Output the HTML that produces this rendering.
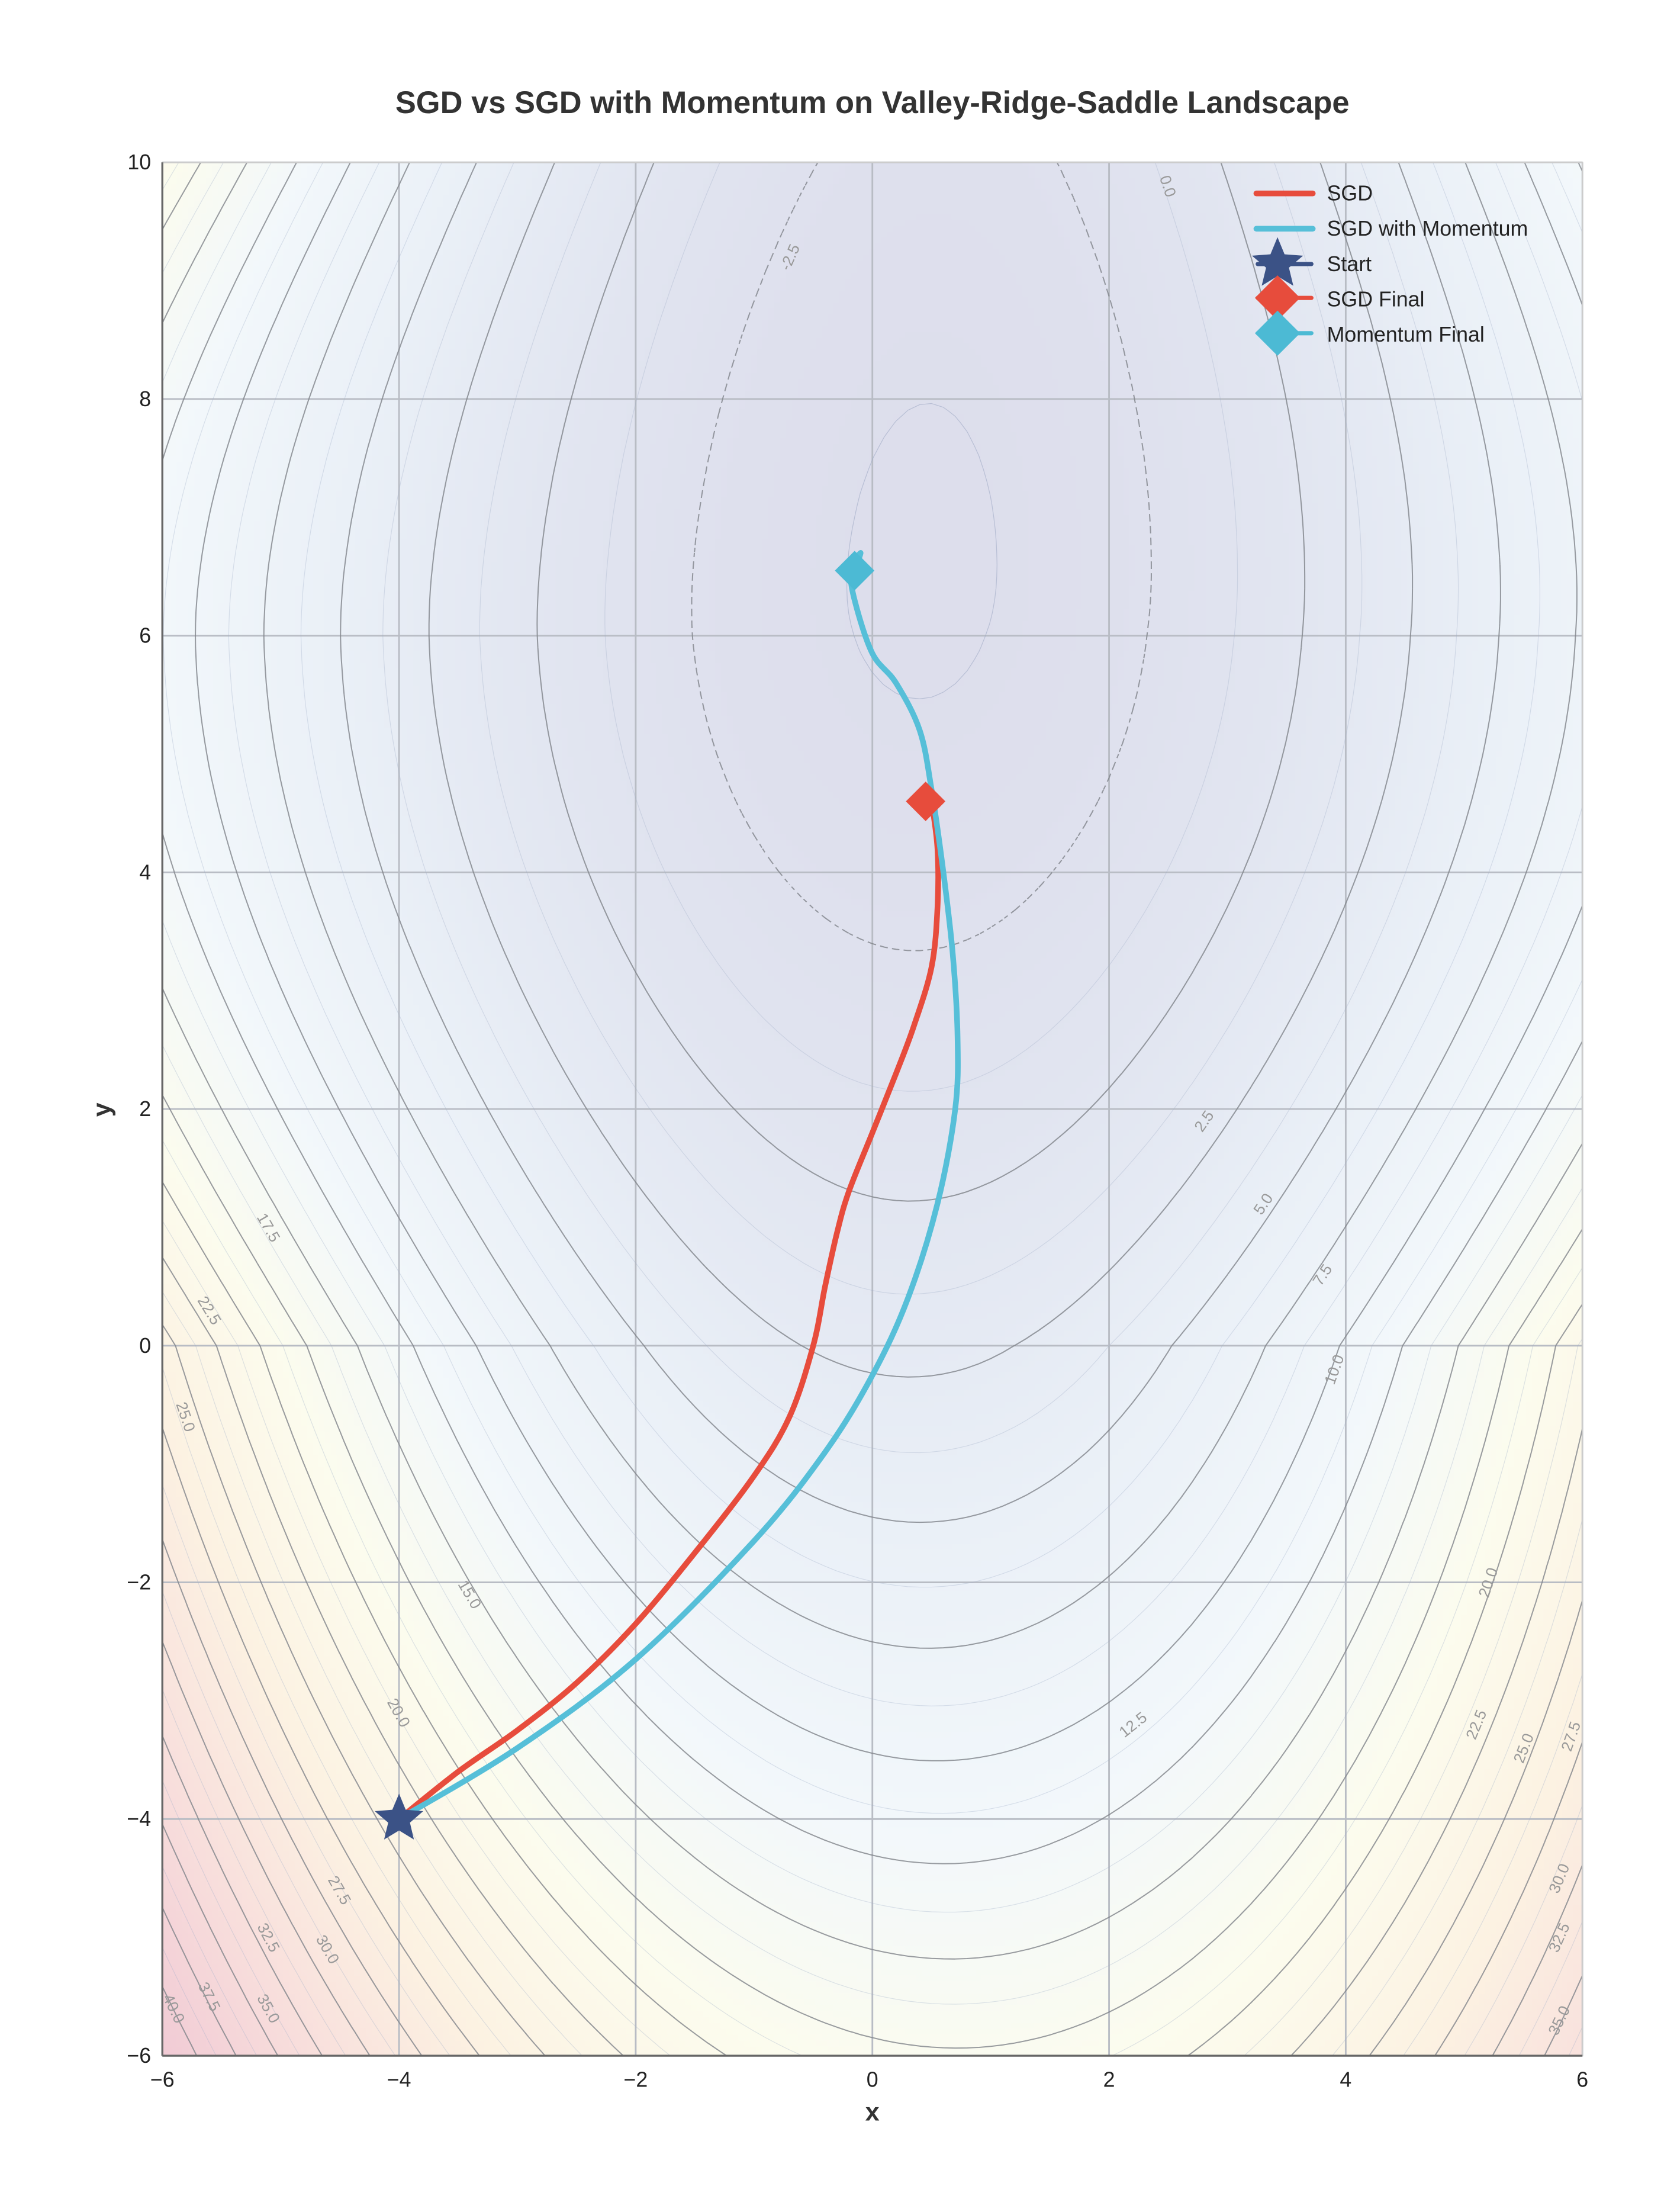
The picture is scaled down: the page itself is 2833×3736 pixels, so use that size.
<!DOCTYPE html>
<html><head><meta charset="utf-8"><style>
html,body{margin:0;padding:0;background:#fff;}
#wrap{position:relative;width:2833px;height:3736px;overflow:hidden;}
#bg{position:absolute;left:273px;top:275px;width:2399px;height:3196px;}
#chart{position:absolute;left:0;top:0;}
text{font-family:"Liberation Sans",Arial,sans-serif;}
</style></head><body>
<div id="wrap">
<canvas id="bg" width="240" height="320"></canvas>
<svg id="chart" width="2833" height="3736" viewBox="0 0 1188 1566.7">
<text x="618" y="80" text-anchor="middle" font-size="22" font-weight="bold" fill="#333">SGD vs SGD with Momentum on Valley-Ridge-Saddle Landscape</text>
<g id="grid"></g>
<g id="contours"></g>
<g id="series"></g>
<rect x="115" y="115" width="1006" height="1341" fill="none" stroke="#ccc" stroke-width="1"/>
<line x1="115" y1="115" x2="115" y2="1456" stroke="#666" stroke-width="1.4"/>
<line x1="115" y1="1456" x2="1121" y2="1456" stroke="#666" stroke-width="1.4"/>
<g id="ticks"></g>
<text x="618" y="1502" text-anchor="middle" font-size="18" font-weight="bold" fill="#333">x</text>
<text x="78" y="786" text-anchor="middle" font-size="18" font-weight="bold" fill="#333" transform="rotate(-90 78 786)">y</text>
<g font-size="15" fill="#222">
<g><line x1="890" y1="137" x2="930" y2="137" stroke="#e74c3c" stroke-width="4" stroke-linecap="round"/><text x="940" y="142">SGD</text></g>
<g><line x1="890" y1="162" x2="930" y2="162" stroke="#56bfd8" stroke-width="4" stroke-linecap="round"/><text x="940" y="167">SGD with Momentum</text></g>
<g><line x1="891" y1="187" x2="929" y2="187" stroke="#3b5286" stroke-width="3" stroke-linecap="round"/><path id="legstar" fill="#3b5286"/><text x="940" y="192">Start</text></g>
<g><line x1="891" y1="211" x2="929" y2="211" stroke="#e74c3c" stroke-width="3" stroke-linecap="round"/><path d="M905,195 L921,211 L905,227 L889,211Z" fill="#e74c3c"/><text x="940" y="217">SGD Final</text></g>
<g><line x1="891" y1="236" x2="929" y2="236" stroke="#4cbad4" stroke-width="3" stroke-linecap="round"/><path d="M905,220 L921,236 L905,252 L889,236Z" fill="#4cbad4"/><text x="940" y="242">Momentum Final</text></g>
</g>
</svg>
</div>
<script>
// ---- data ----
const xTicks = [-6,-4,-2,0,2,4,6];
const yTicks = [-6,-4,-2,0,2,4,6,8,10];
const levels = [-2.5,0,2.5,5,7.5,10,12.5,15,17.5,20,22.5,25,27.5,30,32.5,35,37.5,40,42.5];
const labelLevels = [-2.5,0,2.5,5,7.5,10,12.5,20,22.5,25,27.5,30,32.5,35,17.5,22.5,25,15,20,27.5,30,32.5,35,37.5,40];
const labelXs = [-0.7,2.5,2.8,3.3,3.8,3.9,2.2,5.2,5.1,5.5,5.9,5.8,5.8,5.8,-5.1,-5.6,-5.8,-3.4,-4.0,-4.5,-4.6,-5.1,-5.1,-5.6,-5.9];
const labelYs = [9.2,9.8,1.9,1.2,0.6,-0.2,-3.2,-2.0,-3.2,-3.4,-3.3,-4.5,-5.0,-5.7,1.0,0.3,-0.6,-2.1,-3.1,-4.6,-5.1,-5.0,-5.6,-5.5,-5.6];
const sgdX = [-4,-3.5,-3,-2.5,-2,-1.5,-1,-0.7,-0.5,-0.4,-0.3,-0.2,0,0.2,0.35,0.5,0.55,0.55,0.5];
const sgdY = [-4,-3.6,-3.25,-2.85,-2.35,-1.75,-1.1,-0.6,0,0.5,0.95,1.3,1.8,2.3,2.7,3.2,3.7,4.2,4.6];
const momX = [-4,-3,-2,-1,-0.4,0,0.3,0.55,0.7,0.72,0.68,0.6,0.5,0.4,0.2,0,-0.15,-0.18,-0.1,-0.15];
const momY = [-4,-3.4,-2.65,-1.65,-0.9,-0.25,0.4,1.2,2.0,2.6,3.3,4.0,4.7,5.2,5.6,5.85,6.3,6.55,6.7,6.55];
const startPt = [-4,-4];
const sgdFinal = [0.45,4.6];
const momFinal = [-0.15,6.55];
// ---- scales ----
const X0=115,X1=1121,Y0=115,Y1=1456;
const sx=v=>X0+(v+6)/12*(X1-X0);
const sy=v=>Y1-(v+6)/16*(Y1-Y0);
const NS='http://www.w3.org/2000/svg';
function mk(tag,attrs,parent){const e=document.createElementNS(NS,tag);for(const k in attrs)e.setAttribute(k,attrs[k]);parent.appendChild(e);return e;}
function f(x,y){
  let a;
  if(y<6){const t=Math.min(1,Math.pow((6-y)/6,2));a=0.37+0.23*t;} else a=0.37+0.01*(y-6)*(y-6);
  const m=y<6.5?-3.9+0.14*(y-6.5)*(y-6.5):-3.9+0.07*(y-6.5)*(y-6.5);
  let c; if(y>6)c=0.4+0.0375*(y-6); else if(y>0)c=0.3+0.1*y/6; else c=0.3;
  const dx=x-c;
  return m+a*dx*dx-0.5*x*Math.max(0,-y)/6;
}
// background fill
(function(){
  const c=document.getElementById('bg');const ctx=c.getContext('2d');
  const img=ctx.createImageData(240,320);
  const stops=[[-4,[221,222,236]],[0,[226,230,241]],[5,[234,240,247]],[12,[243,248,251]],[19,[252,252,238]],[27,[252,242,226]],[36,[248,222,220]],[46,[240,200,212]]];
  function col(v){if(v<=stops[0][0])return stops[0][1];for(let i=1;i<stops.length;i++){if(v<=stops[i][0]){const t=(v-stops[i-1][0])/(stops[i][0]-stops[i-1][0]);return stops[i][1].map((c,j)=>stops[i-1][1][j]+(c-stops[i-1][1][j])*t);}}return stops[stops.length-1][1];}
  for(let j=0;j<320;j++)for(let i=0;i<240;i++){const x=-6+12*(i+0.5)/240,y=10-16*(j+0.5)/320;const c2=col(f(x,y));const k=(j*240+i)*4;img.data[k]=c2[0];img.data[k+1]=c2[1];img.data[k+2]=c2[2];img.data[k+3]=255;}
  ctx.putImageData(img,0,0);
})();
// grid and ticks
const grid=document.getElementById('grid'),ticks=document.getElementById('ticks');
xTicks.forEach(t=>{
  const l=mk('line',{x1:sx(t),x2:sx(t),y1:Y0,y2:Y1,stroke:'#b8bcc4','stroke-width':1.2},grid);
  
  const tx=mk('text',{x:sx(t),y:Y1+22,'text-anchor':'middle','font-size':15,fill:'#222'},ticks);
  tx.textContent=(t<0?'\u2212'+(-t):String(t));
  
});
yTicks.forEach(t=>{
  const l=mk('line',{x1:X0,x2:X1,y1:sy(t),y2:sy(t),stroke:'#b8bcc4','stroke-width':1.2},grid);
  
  const tx=mk('text',{x:X0-8,y:sy(t)+5,'text-anchor':'end','font-size':15,fill:'#222'},ticks);
  tx.textContent=(t<0?'\u2212'+(-t):String(t));
  
});
// contours (marching squares)
(function(){
  const g=document.getElementById('contours');
  const NX=120,NY=160;const V=[];
  for(let j=0;j<=NY;j++){V[j]=[];for(let i=0;i<=NX;i++)V[j][i]=f(-6+12*i/NX,10-16*j/NY);}
  const px=i=>X0+(X1-X0)*i/NX,py=j=>Y0+(Y1-Y0)*j/NY;
  function draw(L,stroke,width,op,dash){
    let d='';
    for(let j=0;j<NY;j++)for(let i=0;i<NX;i++){
      const a=V[j][i],b=V[j][i+1],c=V[j+1][i+1],e=V[j+1][i];
      const pts=[];
      const ed=(v1,v2,x1,y1,x2,y2)=>{if((v1<L)!==(v2<L)){const t=(L-v1)/(v2-v1);pts.push([x1+(x2-x1)*t,y1+(y2-y1)*t]);}};
      ed(a,b,px(i),py(j),px(i+1),py(j));ed(b,c,px(i+1),py(j),px(i+1),py(j+1));
      ed(c,e,px(i+1),py(j+1),px(i),py(j+1));ed(e,a,px(i),py(j+1),px(i),py(j));
      for(let k=0;k+1<pts.length;k+=2)d+='M'+pts[k][0].toFixed(1)+','+pts[k][1].toFixed(1)+'L'+pts[k+1][0].toFixed(1)+','+pts[k+1][1].toFixed(1);
    }
    return mk('path',{d:d,fill:'none',stroke:stroke,'stroke-width':width,'stroke-opacity':op,'stroke-dasharray':dash},g);
  }
  const m0=draw(-3.75,'#a0a8c0',0.5,0.4,'none');
  
  levels.forEach(L=>{
    const m=draw(L-1.25,'#a0b0c8',0.5,0.35,'none');
    
    const p=draw(L,'#80838a',0.85,0.8,L<0?'3,3':'none');
    
  });
  labelLevels.forEach((L,i)=>{
    const x=labelXs[i],y=labelYs[i];
    const h=0.01;const gx=(f(x+h,y)-f(x-h,y))/(2*h)/((X1-X0)/12),gy=-(f(x,y+h)-f(x,y-h))/(2*h)/((Y1-Y0)/16);
    let ang=Math.atan2(gx,-gy)*180/Math.PI; if(ang>90)ang-=180; if(ang<-90)ang+=180;
    const X=sx(x),Y=sy(y);
    const t=mk('text',{x:X,y:Y+4,'font-size':11,fill:'#999','text-anchor':'middle',transform:'rotate('+ang.toFixed(1)+' '+X+' '+Y+')'},g);
    t.textContent=L.toFixed(1);
    
  });
})();
// series
function smooth(xs,ys){const P=xs.map((x,i)=>[sx(x),sy(ys[i])]);let d='M'+P[0][0]+','+P[0][1];
  for(let i=0;i<P.length-1;i++){const p0=P[Math.max(0,i-1)],p1=P[i],p2=P[i+1],p3=P[Math.min(P.length-1,i+2)];
    d+='C'+(p1[0]+(p2[0]-p0[0])/6)+','+(p1[1]+(p2[1]-p0[1])/6)+' '+(p2[0]-(p3[0]-p1[0])/6)+','+(p2[1]-(p3[1]-p1[1])/6)+' '+p2[0]+','+p2[1];}
  return d;}
const S=document.getElementById('series');
const sgdPath=mk('path',{d:smooth(sgdX,sgdY),fill:'none',stroke:'#e74c3c','stroke-width':4,'stroke-linejoin':'round'},S);

const momPath=mk('path',{d:smooth(momX,momY),fill:'none',stroke:'#56bfd8','stroke-width':4,'stroke-linejoin':'round'},S);

function star(cx,cy,R){let d='';for(let k=0;k<10;k++){const r=k%2?R*0.45:R;const a=-Math.PI/2+k*Math.PI/5;d+=(k?'L':'M')+(cx+r*Math.cos(a)).toFixed(1)+','+(cy+r*Math.sin(a)).toFixed(1);}return d+'Z';}
function diamond(cx,cy,r){return 'M'+cx+','+(cy-r)+'L'+(cx+r)+','+cy+'L'+cx+','+(cy+r)+'L'+(cx-r)+','+cy+'Z';}
const st=mk('path',{d:star(sx(startPt[0]),sy(startPt[1]),18),fill:'#3b5286'},S);

const sf=mk('path',{d:diamond(sx(sgdFinal[0]),sy(sgdFinal[1]),14),fill:'#e74c3c'},S);

const mf=mk('path',{d:diamond(sx(momFinal[0]),sy(momFinal[1]),14),fill:'#4cbad4'},S);

document.getElementById('legstar').setAttribute('d',star(905,187,19));
</script>
</body></html>
